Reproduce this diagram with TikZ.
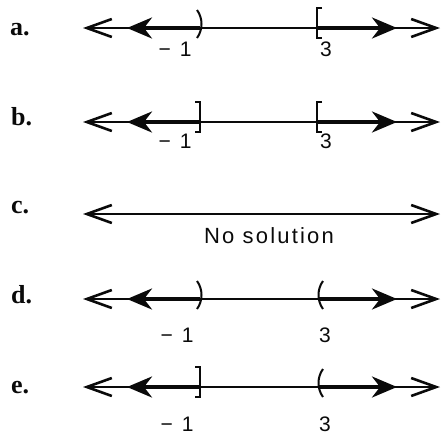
\documentclass[tikz,border=0pt]{standalone}
\usepackage{fontspec}
\usepackage{tikz}
\usetikzlibrary{arrows.meta}
\setmainfont{Liberation Serif}
\newfontfamily\numfont{Liberation Sans}
\newfontfamily\wordfont[LetterSpace=10]{Liberation Sans}
\definecolor{inkdark}{RGB}{10,10,10}
\tikzset{
  tag/.style={anchor=base west, inner sep=0pt, text=inkdark,
    font=\bfseries\fontsize{26}{30}\selectfont},
  num/.style={anchor=base, inner sep=0pt, text=inkdark,
    font=\numfont\fontsize{21}{24}\selectfont},
  axis/.style={line width=1.6pt, color=inkdark,
    {Straight Barb[length=25pt, width=18pt, line width=2.6pt]}-{Straight Barb[length=25pt, width=18pt, line width=2.6pt]}},
  ray/.style={line width=3.5pt, color=inkdark,
    -{Stealth[length=25pt, width=21pt, inset=8pt]}},
  brk/.style={line width=2pt, color=inkdark}
}
% bracket marks at a point of the line
\newcommand{\nlParR}[1]{\draw[brk, shift={(#1)}] (-3,-18) .. controls (3,-10) and (3,2) .. (-3,10);}
\newcommand{\nlParL}[1]{\draw[brk, shift={(#1)}] (4,-18) .. controls (-2,-10) and (-2,2) .. (4,10);}
\newcommand{\nlBrkR}[1]{\draw[brk, shift={(#1)}] (-5,-20) -- (0,-20) -- (0,10) -- (-5,10);}
\newcommand{\nlBrkL}[1]{\draw[brk, shift={(#1)}] (5,-20) -- (0,-20) -- (0,10) -- (5,10);}

\begin{document}
\begin{tikzpicture}[x=1pt, y=-1pt]
  \useasboundingbox (0,0) rectangle (442,437);

  % Row a
  \node[tag] (taga) at (10,35) {a.};
  \coordinate (a-l) at (83,28);  \coordinate (a-r) at (440,28);
  \coordinate (a-m) at (200,28); \coordinate (a-p) at (317,28);
  \coordinate (a-lt) at (127,28); \coordinate (a-rt) at (397,28);
  \node[num] (a-n1) at (175,56) {−\hspace{9pt}1};
  \node[num] (a-n3) at (326,56) {3};

  % Row b
  \node[tag] (tagb) at (11,125) {b.};
  \coordinate (b-l) at (83,122);  \coordinate (b-r) at (440,122);
  \coordinate (b-m) at (200,122); \coordinate (b-p) at (317,122);
  \coordinate (b-lt) at (127,122); \coordinate (b-rt) at (397,122);
  \node[num] (b-n1) at (175,148) {−\hspace{9pt}1};
  \node[num] (b-n3) at (326,148) {3};

  % Row c
  \node[tag] (tagc) at (11,213) {c.};
  \coordinate (c-l) at (83,214);  \coordinate (c-r) at (440,214);
  \node[num, font=\wordfont\fontsize{22}{26}\selectfont] (c-none) at (269,243) {No solution};

  % Row d
  \node[tag] (tagd) at (11,303) {d.};
  \coordinate (d-l) at (83,299);  \coordinate (d-r) at (440,299);
  \coordinate (d-m) at (200,299); \coordinate (d-p) at (319,299);
  \coordinate (d-lt) at (127,299); \coordinate (d-rt) at (397,299);
  \node[num] (d-n1) at (177,342) {−\hspace{9pt}1};
  \node[num] (d-n3) at (325,342) {3};

  % Row e
  \node[tag] (tage) at (11,393) {e.};
  \coordinate (e-l) at (83,387);  \coordinate (e-r) at (440,387);
  \coordinate (e-m) at (200,387); \coordinate (e-p) at (319,387);
  \coordinate (e-lt) at (127,387); \coordinate (e-rt) at (397,387);
  \node[num] (e-n1) at (177,431) {−\hspace{9pt}1};
  \node[num] (e-n3) at (325,431) {3};

  % Paths
  \draw[axis] (a-l) -- (a-r);
  \draw[ray] (a-m) -- (a-lt);
  \draw[ray] (a-p) -- (a-rt);
  \nlParR{a-m} \nlBrkL{a-p}

  \draw[axis] (b-l) -- (b-r);
  \draw[ray] (b-m) -- (b-lt);
  \draw[ray] (b-p) -- (b-rt);
  \nlBrkR{b-m} \nlBrkL{b-p}

  \draw[axis] (c-l) -- (c-r);

  \draw[axis] (d-l) -- (d-r);
  \draw[ray] (d-m) -- (d-lt);
  \draw[ray] (d-p) -- (d-rt);
  \nlParR{d-m} \nlParL{d-p}

  \draw[axis] (e-l) -- (e-r);
  \draw[ray] (e-m) -- (e-lt);
  \draw[ray] (e-p) -- (e-rt);
  \nlBrkR{e-m} \nlParL{e-p}
\end{tikzpicture}
\end{document}
